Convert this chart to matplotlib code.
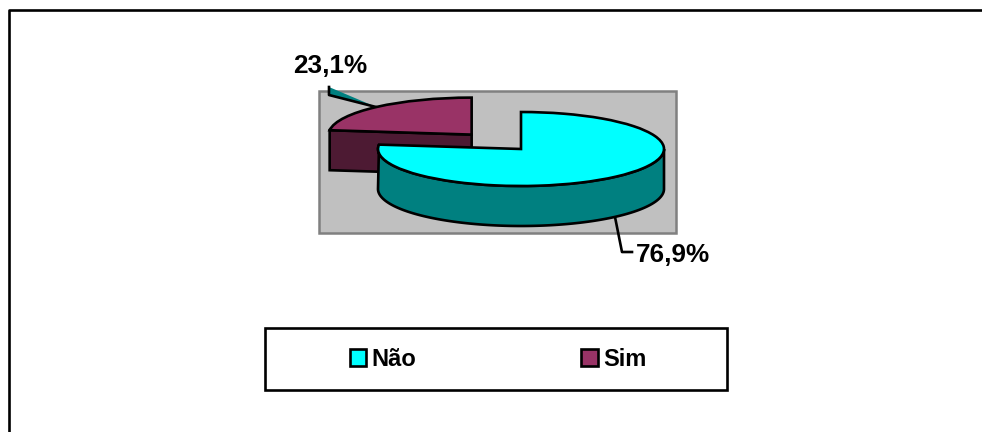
import numpy as np
import matplotlib
matplotlib.use("Agg")
import matplotlib.pyplot as plt
from matplotlib.patches import Polygon, Rectangle

labels = ['Não', 'Sim']
values = [76.9, 23.1]
value_labels = ['76,9%', '23,1%']
top_colors = ['#00FFFF', '#993366']
side_colors = ['#008080', '#4D1A33']

W, H = 982, 432
CX, CY = 521, 149      # pie centre in pixels
RX, RY = 143, 37       # ellipse radii in pixels
DEPTH = 40 / RY
LW = 1.9


def px(x, y):
    return (x - CX) / RX, (CY - y) / RY


fig = plt.figure(figsize=(W / 100, H / 100), dpi=100)
ax = fig.add_axes([0, 0, 1, 1])

wedges, _ = ax.pie(values, colors=top_colors, startangle=90, counterclock=False,
                   explode=[0, 0.52], frame=True,
                   wedgeprops=dict(edgecolor='black', linewidth=LW))
ax.set_aspect('auto')
ax.set_xlim(px(0, 0)[0], px(W, 0)[0])
ax.set_ylim(px(0, H)[1], px(0, 0)[1])
ax.axis('off')

# only the top and left edges of the outer frame are in the picture
ax.plot(*zip(px(9, 432), px(9, 10), px(982, 10)), color='black', lw=LW, zorder=0)

# grey plot area
x0, y0 = px(319, 233)
x1, y1 = px(676, 91)
ax.add_patch(Rectangle((x0, y0), x1 - x0, y1 - y0, fc='#C0C0C0', ec='#808080', lw=1.8, zorder=1))

# 3D side walls, taken from the pie wedges
nao, sim = wedges
nao.set_zorder(6)
sim.set_zorder(4)

a = np.radians(nao.theta1)
edge = (sim.center[0] + np.cos(a), sim.center[1] + np.sin(a))
pts = [edge, sim.center, (sim.center[0], sim.center[1] - DEPTH), (edge[0], edge[1] - DEPTH)]
ax.add_patch(Polygon(pts, closed=True, fc=side_colors[1], ec='black', lw=LW, zorder=3))

# bottom rim only runs over the front half, so the left wall stays straight
t = np.radians(np.linspace(nao.theta1, 0, 200))
b = np.radians(np.linspace(0, -180, 200))
pts = np.r_[np.c_[np.cos(t), np.sin(t)], np.c_[np.cos(b), np.sin(b) - DEPTH]]
ax.add_patch(Polygon(pts, closed=True, fc=side_colors[0], ec='black', lw=LW, zorder=5))

# leader of the small slice is a thin filled sliver in the original
ax.add_patch(Polygon([px(329, 87), px(329, 95), px(376, 107)], closed=True,
                     fc=side_colors[0], ec='none', zorder=2))
ax.plot(*zip(px(329, 87), px(329, 95), px(376, 107)), color='black', lw=LW, zorder=2)
ax.plot(*zip(px(615, 217), px(622, 252), px(632, 252)), color='black', lw=LW, zorder=2)

font = dict(family='Liberation Sans', weight='bold', fontsize=18.8, va='baseline', ha='left')
ax.text(*px(636, 262), value_labels[0], **font)
ax.text(*px(293, 73), value_labels[1], **font)

# legend
x0, y0 = px(265, 390)
x1, y1 = px(727, 328)
ax.add_patch(Rectangle((x0, y0), x1 - x0, y1 - y0, fc='white', ec='black', lw=LW, zorder=1))
ax.legend(wedges, labels, ncol=2, loc='center', bbox_to_anchor=px(498, 359),
          bbox_transform=ax.transData, frameon=False,
          prop=dict(family='Liberation Sans', weight='bold', size=17),
          handlelength=0.7, handleheight=0.7, handletextpad=0.22, columnspacing=7.0)

fig.savefig('out.png', dpi=100)
